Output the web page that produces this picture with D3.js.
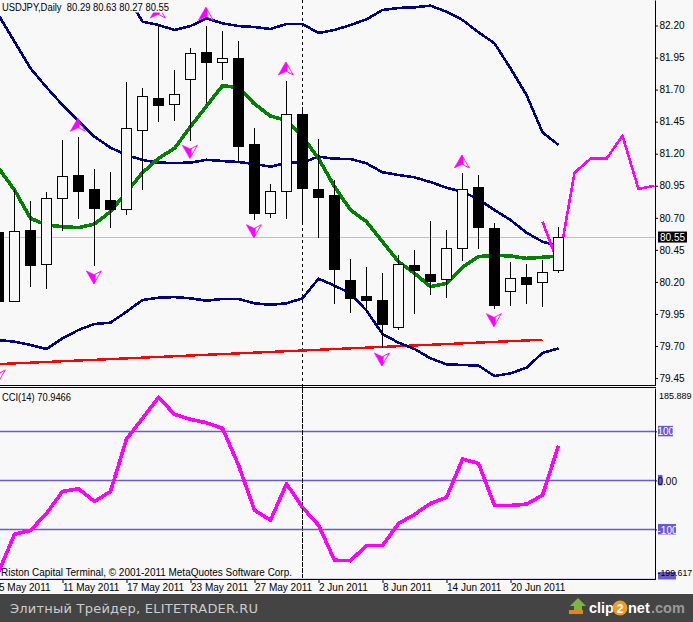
<!DOCTYPE html>
<html><head><meta charset="utf-8">
<script src="https://cdn.jsdelivr.net/npm/d3@7/dist/d3.min.js"></script>
<style>html,body{margin:0;padding:0;background:#f8f8f8;overflow:hidden}svg{display:block}text{font-family:"Liberation Sans",sans-serif;font-size:10px}</style>
</head><body><svg id="c" width="693" height="622"></svg>
<script>
const dates=["5 May 2011","6 May 2011","9 May 2011","10 May 2011","11 May 2011","12 May 2011","13 May 2011","16 May 2011","17 May 2011","18 May 2011","19 May 2011","20 May 2011","23 May 2011","24 May 2011","25 May 2011","26 May 2011","27 May 2011","30 May 2011","31 May 2011","1 Jun 2011","2 Jun 2011","3 Jun 2011","6 Jun 2011","7 Jun 2011","8 Jun 2011","9 Jun 2011","10 Jun 2011","13 Jun 2011","14 Jun 2011","15 Jun 2011","16 Jun 2011","17 Jun 2011","20 Jun 2011","21 Jun 2011","22 Jun 2011","23 Jun 2011"];
const open=[80.589,80.049,80.605,80.338,80.852,81.034,80.925,80.839,80.766,81.383,81.632,81.585,81.780,81.993,81.913,81.947,81.276,80.740,80.912,81.510,80.925,80.878,80.215,80.090,80.059,79.851,80.332,80.262,80.225,80.462,80.940,80.621,80.127,80.238,80.197,80.29];
const high=[80.644,80.925,80.831,80.899,81.307,81.330,81.081,81.057,81.759,81.713,82.204,81.853,82.025,82.196,82.157,82.079,81.401,80.964,81.767,81.562,81.315,80.995,80.379,80.316,80.270,80.410,80.449,80.675,80.605,81.050,81.034,80.660,80.355,80.340,80.371,80.63];
const low=[80.020,80.049,80.163,80.147,80.600,80.693,80.324,80.623,80.724,80.919,81.450,81.458,81.299,81.593,81.775,81.135,80.683,80.701,80.693,80.660,80.543,80.028,79.958,79.968,79.687,79.825,79.950,80.098,80.075,80.366,80.457,79.991,80.012,80.028,80.007,80.27];
const close=[80.054,80.595,80.334,80.852,81.024,80.912,80.779,80.771,81.401,81.648,81.582,81.663,81.983,81.918,81.944,81.263,80.740,80.907,81.507,80.933,80.862,80.301,80.075,80.059,79.872,80.340,80.293,80.207,80.462,80.925,80.631,80.022,80.228,80.186,80.275,80.55];
const bandMid=[82.282,82.074,81.866,81.718,81.580,81.458,81.333,81.247,81.190,81.151,81.130,81.128,81.130,81.153,81.143,81.135,81.120,81.099,81.128,81.132,81.177,81.161,81.159,81.125,81.055,81.034,81.016,80.979,80.935,80.904,80.844,80.761,80.683,80.584,80.514,80.480];
const bandUpper=[null,null,null,null,null,null,null,null,82.438,82.230,82.204,82.165,82.196,82.256,82.217,82.196,82.188,82.173,82.212,82.212,82.142,82.165,82.204,82.248,82.321,82.337,82.342,82.355,82.308,82.243,82.147,82.061,81.866,81.658,81.367,81.268];
const bandLower=[79.747,79.734,79.708,79.677,79.760,79.825,79.872,79.882,79.968,80.059,80.077,80.082,80.072,80.054,80.067,80.067,80.033,80.022,80.033,80.072,80.225,80.171,80.111,79.976,79.794,79.726,79.677,79.604,79.557,79.552,79.547,79.466,79.487,79.531,79.646,79.682];
const maGreen=[81.089,80.917,80.696,80.644,80.631,80.623,80.652,80.748,80.901,81.052,81.164,81.242,81.411,81.572,81.731,81.715,81.588,81.494,81.458,81.333,81.164,80.943,80.761,80.670,80.514,80.358,80.267,80.163,80.189,80.314,80.397,80.408,80.402,80.384,80.392,80.402];
const trendIdx=[0,34];
const trendVal=[79.559,79.749];
const forecastIdx=[34,35,36,37,38,39,40,41];
const forecastVal=[80.670,80.340,81.052,81.161,81.161,81.341,80.925,80.951];
const fractalUpIdx=[5,10,13,18,29];
const fractalUpVal=[81.476,82.360,82.342,81.915,81.190];
const fractalDownIdx=[0,6,12,16,24,31];
const fractalDownVal=[79.412,80.184,81.164,80.545,79.544,79.851];
const cci=[-187.1,-109.6,-102,-67.3,-22.4,-17.1,-42.9,-22.4,84.3,126.5,169.4,134.7,124.5,117.6,106.1,31.2,-60.6,-81,-6.9,-55.1,-91.2,-162.7,-163.7,-132.7,-132.7,-87.8,-69.4,-46.9,-34.7,43.5,34.7,-51,-51,-48.4,-30,70.9466];
const cciLevels=[100,0,-100,-200];
const priceTicks=[82.20,81.95,81.70,81.45,81.20,80.95,80.70,80.45,80.20,79.95,79.70,79.45];
const cciMax=185.889, cciMin=-199.617;
const cciTicks=[100,0,-100];
const lastPrice=80.55;
const legendText="USDJPY,Daily  80.29 80.63 80.27 80.55";
const cciText="CCI(14) 70.9466";
const copyText="Riston Capital Terminal, © 2001-2011 MetaQuotes Software Corp.";
const barText="Элитный Трейдер, ELITETRADER.RU";

const svg=d3.select("#c");
const BG="#f8f8f8",SL="#6a5acd",MAG="#ff00ff",NAVY="#000080",GREEN="#008000",RED="#ff0000";
const x=d3.scaleLinear().domain([0,35]).range([-1.5,558.5]);
const y=d3.scaleLinear().domain([79.396,82.399]).range([385,0]);
const yc=d3.scaleLinear().domain([-201,188.4]).range([579,388]);
const idx=d3.range(36);
const AX=655.5;
const fit=(s,w)=>s.attr("textLength",w).attr("lengthAdjust","spacingAndGlyphs");

svg.append("rect").attr("width",693).attr("height",622).attr("fill",BG);
const defs=svg.append("defs");
defs.append("clipPath").attr("id","pm").append("rect").attr("width",655).attr("height",385);
defs.append("clipPath").attr("id","pc").append("rect").attr("y",388).attr("width",655).attr("height",191);

/* crosshair */
svg.append("line").attr("x1",x(19)).attr("x2",x(19)).attr("y1",0).attr("y2",578).attr("stroke","#000").attr("stroke-dasharray","3,3");

const main=svg.append("g").attr("clip-path","url(#pm)");
const lineP=d3.line().defined(d=>d[1]!=null).x(d=>x(d[0])).y(d=>y(d[1]));
const crisp=s=>s.attr("shape-rendering","crispEdges");

main.append("line").attr("x1",0).attr("x2",655).attr("y1",Math.round(y(lastPrice))+.5).attr("y2",Math.round(y(lastPrice))+.5).attr("stroke","#c0c0c0");

function series(g,gen,data,col,w){g.append("path").datum(data).attr("d",gen).attr("fill","none").attr("stroke",col).attr("stroke-width",w).attr("stroke-linejoin","round").attr("stroke-linecap","butt").call(crisp);}
series(main,lineP,trendIdx.map((d,i)=>[d,trendVal[i]]),RED,2.4);
series(main,lineP,idx.map(i=>[i,bandUpper[i]]),NAVY,2.6);
series(main,lineP,idx.map(i=>[i,bandMid[i]]),NAVY,2.6);
series(main,lineP,idx.map(i=>[i,bandLower[i]]),NAVY,2.6);
series(main,lineP,idx.map(i=>[i,maGreen[i]]),GREEN,3.6);
series(main,lineP,forecastIdx.map((d,i)=>[d,forecastVal[i]]),MAG,2.6);

/* candles */
const cs=main.append("g").selectAll("g").data(idx).join("g").call(crisp);
cs.append("line").attr("x1",i=>x(i)).attr("x2",i=>x(i)).attr("y1",i=>y(high[i])).attr("y2",i=>y(low[i])).attr("stroke","#000");
cs.append("rect")
 .attr("x",i=>x(i)-5).attr("width",10)
 .attr("y",i=>Math.round(y(Math.max(open[i],close[i])))+.5)
 .attr("height",i=>Math.max(1,Math.round(y(Math.min(open[i],close[i])))-Math.round(y(Math.max(open[i],close[i])))))
 .attr("fill",i=>close[i]>=open[i]?BG:"#000").attr("stroke","#000");

/* fractal arrows */
function arrow(g,i,v,dir){
  const s=g.append("g").attr("transform",`translate(${x(i)-.7},${y(v)}) scale(1,${dir})`);
  s.append("path").attr("d","M0,0L-7.5,13L0,9.5L1.5,9.5L1.5,3Z").attr("fill",MAG).attr("stroke",MAG).attr("stroke-width",.6);
  s.append("path").attr("d","M0,0L7.5,13L1,9.5").attr("fill","none").attr("stroke",MAG).attr("stroke-width",.9);
}
fractalUpIdx.forEach((d,k)=>arrow(main,d,fractalUpVal[k],1));
fractalDownIdx.forEach((d,k)=>arrow(main,d,fractalDownVal[k],-1));

/* legend with its own background */
svg.append("rect").attr("x",0).attr("y",0).attr("width",170).attr("height",12.5).attr("fill",BG);
svg.append("text").attr("x",2).attr("y",11).style("white-space","pre").text(legendText).call(fit,167);

/* CCI panel */
const cg=svg.append("g").attr("clip-path","url(#pc)");
cg.selectAll("line").data(cciLevels).join("line").attr("x1",0).attr("x2",655)
 .attr("y1",d=>Math.round(yc(d))+.5).attr("y2",d=>Math.round(yc(d))+.5).attr("stroke",SL).attr("stroke-width",1.6);
series(cg,d3.line().x(d=>x(d[0])).y(d=>yc(d[1])),idx.map(i=>[i,cci[i]]),MAG,3.6);
svg.append("text").attr("x",2).attr("y",400.5).text(cciText).call(fit,69);
svg.append("text").attr("x",1).attr("y",575.5).text(copyText).call(fit,291);
svg.append("line").attr("x1",x(19)).attr("x2",x(19)).attr("y1",388).attr("y2",578).attr("stroke","#000").attr("stroke-dasharray","3,3");

/* frame lines */
[385.5,387.5,579.5].forEach(v=>svg.append("line").attr("x1",0).attr("x2",656).attr("y1",v).attr("y2",v).attr("stroke","#000"));

/* price axis */
const gp=svg.append("g").attr("transform",`translate(${AX-.5},0)`)
 .call(d3.axisRight(y).tickValues(priceTicks).tickFormat(d3.format(".2f")).tickSize(3).tickSizeOuter(0).tickPadding(1.5));
gp.selectAll("text").attr("font-size",10).attr("fill","#000");
gp.selectAll("line,path").attr("stroke","#000");

/* current price tag */
svg.append("rect").attr("x",658).attr("y",y(lastPrice)-5.5).attr("width",29).attr("height",11).attr("fill","#000");
svg.append("text").attr("x",660).attr("y",y(lastPrice)+3.6).attr("fill","#fff").text(d3.format(".2f")(lastPrice));

/* CCI axis */
const levelTag=[{v:100,w:15},{v:0,w:4.5},{v:-100,w:18}];
svg.append("g").selectAll("rect").data(levelTag).join("rect").attr("x",658).attr("y",d=>yc(d.v)-5.5).attr("width",d=>d.w).attr("height",10.5).attr("fill",SL);
svg.append("rect").attr("x",658).attr("y",572).attr("width",18).attr("height",7.5).attr("fill",SL);
const gc=svg.append("g").attr("transform",`translate(${AX-.5},0)`)
 .call(d3.axisRight(yc).tickValues(cciTicks).tickFormat(d=>d===0?"0.00":String(d)).tickSize(2).tickSizeOuter(0).tickPadding(0.5));
gc.selectAll("text").attr("font-size",10).attr("fill",d=>d===0?"#000":"#fff").attr("dy","0.36em");
gc.selectAll("line,path").attr("stroke","#000");
svg.append("text").attr("x",659).attr("y",398.5).style("font-size","9px").text(String(cciMax));
svg.append("text").attr("x",657.5).attr("y",575.5).style("font-size","8.8px").text(String(cciMin));

/* date axis */
const gd=svg.append("g").attr("transform","translate(0,579)")
 .call(d3.axisBottom(x).tickValues(idx.filter(i=>i%4===0&&i<=32)).tickFormat(i=>dates[i]).tickSize(4).tickSizeOuter(0).tickPadding(0));
gd.select(".domain").remove();
gd.selectAll("text").attr("text-anchor","start").attr("font-size",10).attr("fill","#000").attr("dy","0.75em");
gd.selectAll("line").attr("stroke","#000");

/* watermark bar */
svg.append("rect").attr("y",594).attr("width",693).attr("height",28).attr("fill","#444444");
svg.append("text").attr("x",10).attr("y",612.5).attr("fill","#cccccc").style("font-family","'DejaVu Sans',sans-serif").style("font-size","13px").text(barText).attr("textLength",248);
const logo=svg.append("g");
logo.append("path").attr("d","M578,598L586,606L582,606L582,612L574,612L574,606L570,606Z").attr("fill","#7cb342");
logo.append("rect").attr("x",569).attr("y",610).attr("width",14).attr("height",4).attr("fill","#e8822a");
logo.append("text").attr("x",589).attr("y",613).attr("fill","#fff").style("font-size","14.5px").style("font-weight","bold").text("clip");
logo.append("circle").attr("cx",620).attr("cy",608).attr("r",7.5).attr("fill","#f09a28");
logo.append("text").attr("x",620).attr("y",612.5).attr("text-anchor","middle").attr("fill","#fff").style("font-size","12px").style("font-weight","bold").text("2");
logo.append("text").attr("x",628).attr("y",613).attr("fill","#fff").style("font-size","14.5px").style("font-weight","bold").text("net");
logo.append("text").attr("x",651).attr("y",613).attr("fill","#9a9a9a").style("font-size","14.5px").style("font-weight","bold").text(".com");
</script></body></html>
